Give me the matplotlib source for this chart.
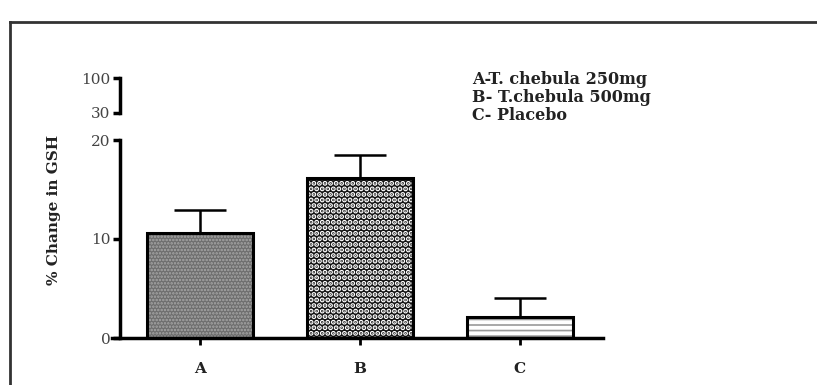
import matplotlib
matplotlib.use("Agg")
import matplotlib.pyplot as plt
import numpy as np

categories = ["A", "B", "C"]
values = [10.6, 16.2, 2.1]
errors = [2.3, 2.3, 1.9]
legend_lines = ["A-T. chebula 250mg", "B- T.chebula 500mg", "C- Placebo"]
upper_ticks = [30, 100]
lower_ticks = [0, 10, 20]

plt.rcParams['font.family'] = ['DejaVu Serif']

W, H = 817, 385
fig = plt.figure(figsize=(W / 100, H / 100), dpi=100)

# frame lines (top and left)
fig.add_artist(plt.Line2D([10 / W, 1], [1 - 22 / H, 1 - 22 / H], color='#333333', lw=2))
fig.add_artist(plt.Line2D([10 / W, 10 / W], [0, 1 - 22 / H], color='#333333', lw=2))

left = 120 / W
right = 603 / W
ax = fig.add_axes([left, 1 - 338 / H, right - left, (338 - 140) / H])
axt = fig.add_axes([left, 1 - 113 / H, 0.01, (113 - 78) / H])

x = np.arange(len(categories))
width = 0.66
faces = ['#6e6e6e', '#111111', 'white']
hatches = ['.....', '...', '---']
hcols = ['#a8a8a8', 'white', '#9a9a9a']
hlws = [1.2, 2.6, 1.2]
for i in range(len(categories)):
    with plt.rc_context({'hatch.linewidth': hlws[i]}):
        ax.bar(x[i], values[i], width=width, color=faces[i], hatch=hatches[i],
               edgecolor=hcols[i], linewidth=0, zorder=2)
ax.bar(x, values, width=width, fill=False, edgecolor='black', linewidth=2.2, zorder=3)
ax.errorbar(x, values, yerr=[[0] * 3, errors], fmt='none', ecolor='black',
            elinewidth=1.8, capsize=19, capthick=1.8, zorder=1)

ax.set_xlim(-0.5, 2.52)
ax.set_ylim(0, 20)
ax.set_yticks(lower_ticks)
ax.set_xticks(x)
ax.set_xticklabels(categories, fontweight='bold', fontsize=11, color='#222222')
ax.tick_params(axis='x', length=5, width=2, pad=12)
ax.tick_params(axis='y', length=5, width=2.5, labelsize=11, labelcolor='#444444', pad=2)
for s in ['top', 'right']:
    ax.spines[s].set_visible(False)
ax.spines['left'].set_linewidth(2.5)
ax.spines['bottom'].set_linewidth(2.5)
ax.spines['bottom'].set_bounds(-0.55, 2.52)

axt.set_ylim(30, 100)
axt.set_yticks(upper_ticks)
axt.set_xticks([])
axt.tick_params(axis='y', length=5, width=2.5, labelsize=11, labelcolor='#444444', pad=2)
for s in ['top', 'right', 'bottom']:
    axt.spines[s].set_visible(False)
axt.spines['left'].set_linewidth(2.5)
axt.patch.set_alpha(0)

fig.text(54 / W, 1 - 210 / H, "% Change in GSH", rotation=90, ha='center', va='center',
         fontsize=11, fontweight='bold', color='#222222')

for i, t in enumerate(legend_lines):
    fig.text(472 / W, 1 - (79 + 18.5 * i) / H, t, ha='left', va='center',
             fontsize=11.5, fontweight='bold', color='#222222')

fig.savefig("out.png", dpi=100)
